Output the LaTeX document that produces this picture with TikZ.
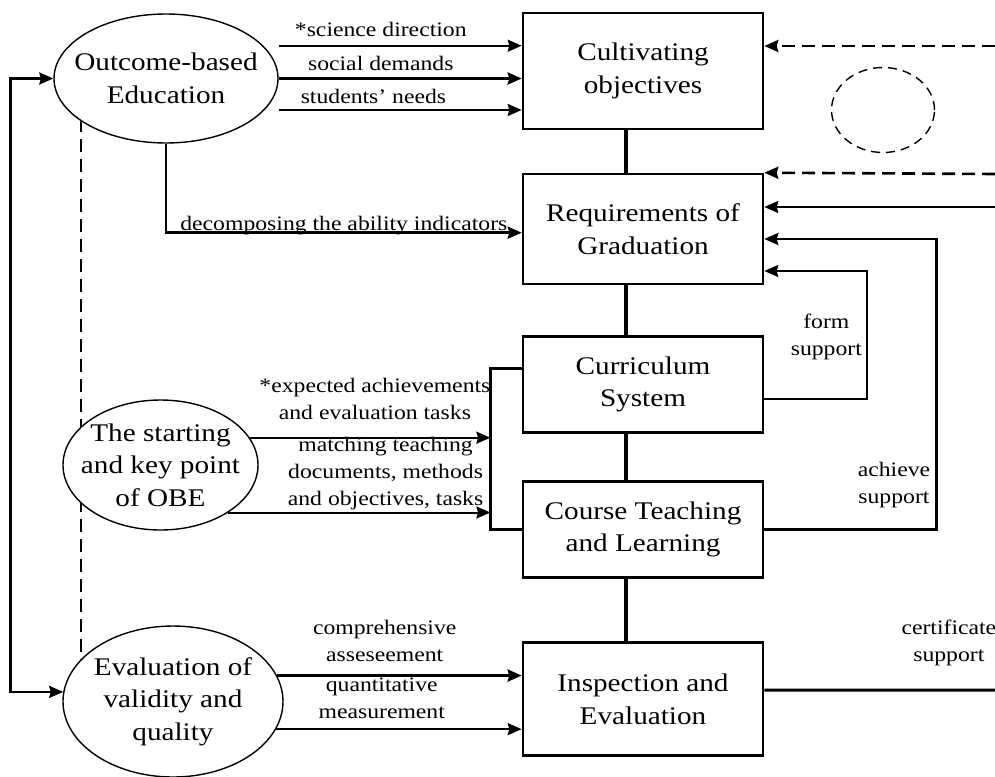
\documentclass[tikz,border=0pt]{standalone}
\usepackage{fontspec}
\setmainfont{Liberation Serif}[FakeStretch=1.15]
\usetikzlibrary{arrows.meta,shapes.geometric,backgrounds}

\tikzset{
  goalbox/.style={draw, line width=1.3pt, minimum width=120pt, align=center, font=\fontsize{12.7}{16.3}\selectfont},
  oval/.style={ellipse, draw, line width=0.7pt, fill=white, inner sep=0pt},
  ovaltext/.style={align=center, font=\fontsize{12.7}{16.3}\selectfont},
  lbl/.style={align=center, inner sep=0pt, font=\fontsize{10.3}{13.5}\selectfont},
  arr/.style={->, line width=1pt},
  link/.style={line width=2pt},
  dasharr/.style={->, line width=1.3pt, dash pattern=on 6.5pt off 3.5pt},
}

\begin{document}
\begin{tikzpicture}[x=0.5pt, y=-0.5pt, >={Stealth[length=7pt,width=6pt,inset=0.8pt]}]
  \useasboundingbox (0,0) rectangle (995,776);

  % the five stages
  \node[goalbox, minimum height=58pt] (cult) at (643,71) {Cultivating\\objectives};
  \node[goalbox, minimum height=55pt] (req) at (643,229) {Requirements of\\Graduation};
  \node[goalbox, minimum height=48pt] (cur) at (643,384.5) {Curriculum\\System};
  \node[goalbox, minimum height=48pt] (ct) at (643,529.3) {Course Teaching\\and Learning};
  \node[goalbox, minimum height=56.5pt] (insp) at (643,699.2) {Inspection and\\Evaluation};
  \foreach \Upper/\Lower in {cult/req, req/cur, cur/ct, ct/insp}
    \draw[link] ([xshift=-8.5pt]\Upper.south) -- ([xshift=-8.5pt]\Lower.north);

  % OBE side
  \node[oval, minimum width=112pt, minimum height=64.5pt,
        label={[ovaltext]center:{Outcome-based\\Education}}] (obe) at (166,78.5) {};
  \node[oval, minimum width=97.5pt, minimum height=65pt,
        label={[ovaltext]center:{The starting\\and key point\\of OBE}}] (key) at (160.5,465) {};
  \node[oval, minimum width=110pt, minimum height=75.5pt,
        label={[ovaltext]center:{Evaluation of\\validity and\\quality}}] (eval) at (173,701.5) {};
  \begin{scope}[on background layer]
    \draw[line width=0.8pt, dash pattern=on 6.5pt off 3.5pt] ([xshift=-42.5pt]obe.center) -- ([xshift=-46pt]eval.center);
  \end{scope}
  \draw[<->, line width=1.2pt] (obe.west) -- ++(-21.5pt,0) |- (eval.175);

  \draw[arr] ([yshift=16.4pt]obe.east) -- node[lbl, pos=0.42, anchor=base, yshift=4.85pt] {*science direction} ([yshift=16.4pt]obe.east -| cult.west);
  \draw[arr, line width=1.5pt] (obe.east) -- node[lbl, pos=0.42, anchor=base, yshift=4pt] {social demands} (obe.east -| cult.west);
  \draw[arr] ([yshift=-15.75pt]obe.east) -- node[lbl, pos=0.39, anchor=base, yshift=3.35pt] {students’ needs} ([yshift=-15.75pt]obe.east -| cult.west);
  \draw[arr, line width=1.3pt] (obe.south) |- node[lbl, pos=0.75, anchor=base, yshift=1.35pt] {decomposing the ability indicators} ([yshift=-1.85pt]req.west);

  \draw[line width=1.5pt] ([yshift=8.25pt]cur.west) -- ++(-15.65pt,0) coordinate (brk) |- (ct.west);
  \draw[arr] (key.17.9) -- node[lbl, pos=0.52, above=8.3pt] {*expected achievements\\and evaluation tasks} (key.17.9 -| brk);
  \draw[arr] (key.-35.7) -- node[lbl, pos=0.6, above=0.75pt] {matching teaching\\documents, methods\\and objectives, tasks} (key.-35.7 -| brk);

  \draw[arr, line width=1.5pt] (eval.14) -- node[lbl, pos=0.44, above=6.35pt] {comprehensive\\asseseement} (eval.14 -| insp.west);
  \draw[arr] (eval.-15) -- node[lbl, pos=0.43, above=4.5pt] {quantitative\\measurement} (eval.-15 -| insp.west);

  % feedback on the right
  \coordinate (rimA) at (995,46);
  \coordinate (rimB) at (995,174);
  \coordinate (rimC) at (995,207);
  \coordinate (rimD) at (995,690);
  \node[ellipse, draw, line width=0.7pt, dash pattern=on 4.5pt off 3pt, minimum width=51.5pt, minimum height=42.5pt] (void) at (883,110) {};
  \draw[dasharr] (rimA) -- (rimA -| cult.east);
  \draw[dasharr] (rimB) -- (req.north east);
  \draw[arr, line width=0.9pt] (rimC) -- (rimC -| req.east);
  \draw[arr, line width=1.2pt] (ct.east) -- ++(86pt,0) |- node[lbl, pos=0.076, left=2.5pt] {achieve\\support} ([yshift=-5pt]req.east);
  \draw[arr] ([yshift=-7.25pt]cur.east) -- ++(51.5pt,0) |- node[lbl, pos=0.243, left=2.2pt] {form\\support} ([yshift=-21pt]req.east);
  \draw[line width=1.5pt] ([yshift=4.6pt]insp.east) -- node[lbl, pos=0.8, above=11.2pt] {certificate\\support} (rimD);
\end{tikzpicture}
\end{document}
